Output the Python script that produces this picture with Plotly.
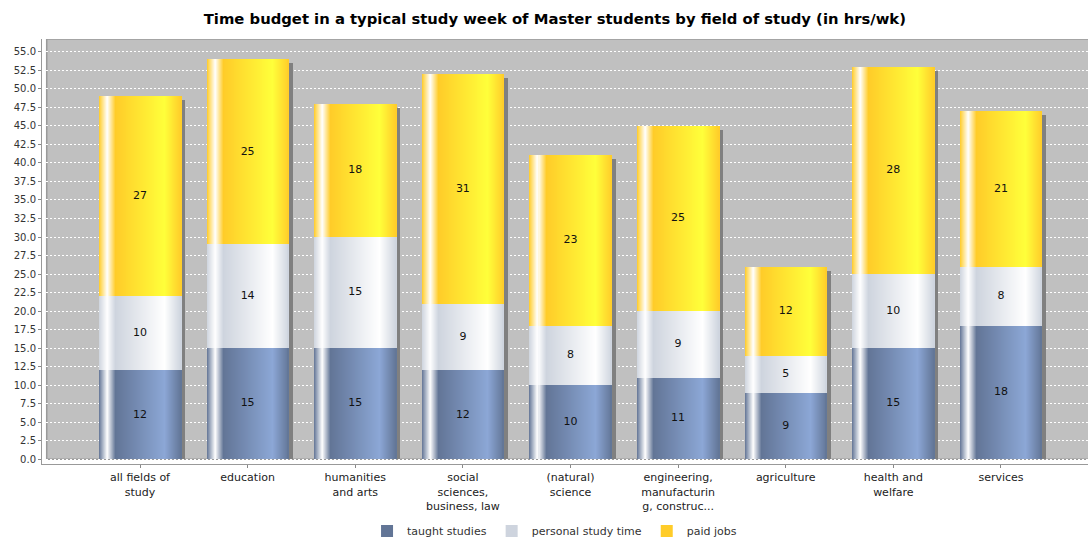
import numpy as np
import plotly.graph_objects as go

# ---- data -------------------------------------------------------------
categories = [
    "all fields of<br>study", "education", "humanities<br>and arts",
    "social<br>sciences,<br>business, law", "(natural)<br>science",
    "engineering,<br>manufacturin<br>g, construc...", "agriculture",
    "health and<br>welfare", "services",
]
taught_studies = [12, 15, 15, 12, 10, 11, 9, 15, 18]
personal_study_time = [10, 14, 15, 9, 8, 9, 5, 10, 8]
paid_jobs = [27, 25, 18, 31, 23, 25, 12, 28, 21]
series_names = ["taught studies", "personal study time", "paid jobs"]
y_ticks = [i * 2.5 for i in range(23)]

# ---- styling ----------------------------------------------------------
FONT = "DejaVu Sans"
base_colors = [(98, 117, 150), (206, 212, 222), (255, 204, 41)]
PX_PER_CAT = 107.6          # horizontal pixels per category slot
PX_PER_UNIT = 7.41          # vertical pixels per hour
BAR_W = 82 / PX_PER_CAT     # bar width in category units
N_STRIPS = 82               # vertical strips used to paint the gradient
SHADOW_DX = 4 / PX_PER_CAT
SHADOW_DY = 4 / PX_PER_UNIT


def brighter(c):
    return tuple(min(int(v / 0.7), 255) for v in c)


def lerp(a, b, t):
    return tuple(a[i] + (b[i] - a[i]) * t for i in range(3))


def gradient(c0, t):
    """Horizontal bar gradient: dark -> white -> dark -> light -> dark."""
    white = (255, 255, 255)
    c1 = brighter(c0)
    if t < 0.1:
        c = lerp(c0, white, t / 0.1)
    elif t < 0.2:
        c = lerp(white, c0, (t - 0.1) / 0.1)
    elif t < 0.8:
        c = lerp(c0, c1, (t - 0.2) / 0.6)
    else:
        c = lerp(c1, c0, (t - 0.8) / 0.2)
    return "rgb(%d,%d,%d)" % tuple(int(round(v)) for v in c)


x = np.arange(len(categories))
series = [np.array(taught_studies), np.array(personal_study_time), np.array(paid_jobs)]
bases = [np.zeros(len(x)), series[0], series[0] + series[1]]
totals = series[0] + series[1] + series[2]

fig = go.Figure()

# drop shadow behind every stacked bar
fig.add_trace(go.Bar(
    x=x, y=totals - SHADOW_DY, base=np.zeros(len(x)),
    offset=-BAR_W / 2 + SHADOW_DX, width=BAR_W,
    marker=dict(color="rgb(128,128,128)", line=dict(width=0)),
    showlegend=False, hoverinfo="skip",
))

# gradient-filled stacked segments, painted strip by strip
strip_w = BAR_W / N_STRIPS
for vals, base, c0 in zip(series, bases, base_colors):
    for i in range(N_STRIPS):
        t = (i + 0.5) / N_STRIPS
        w = strip_w * 2.0 if i < N_STRIPS - 1 else strip_w
        fig.add_trace(go.Bar(
            x=x, y=vals, base=base,
            offset=-BAR_W / 2 + i * strip_w, width=w,
            marker=dict(color=gradient(c0, t), line=dict(width=0)),
            showlegend=False, hoverinfo="skip",
        ))

# value labels in the middle of each segment
for vals, base in zip(series, bases):
    fig.add_trace(go.Scatter(
        x=x, y=base + vals / 2, text=[str(v) for v in vals],
        mode="text", textposition="middle center",
        textfont=dict(family=FONT, size=11, color="#111"),
        showlegend=False, hoverinfo="skip",
    ))

# legend entries
for name, c0 in zip(series_names, base_colors):
    fig.add_trace(go.Bar(
        x=[None], y=[None], name=name,
        marker=dict(color="rgb(%d,%d,%d)" % c0, line=dict(width=0)),
    ))

Y_MIN = -4.7 / PX_PER_UNIT
Y_MAX = 420.3 / PX_PER_UNIT
X_MIN = -98 / PX_PER_CAT
X_MAX = 8 + 87 / PX_PER_CAT

fig.update_layout(
    width=1088, height=537,
    margin=dict(l=42, r=0, t=39, b=73, autoexpand=False),
    paper_bgcolor="white", plot_bgcolor="white",
    barmode="overlay", bargap=0,
    font=dict(family=FONT, color="#333"),
    title=dict(
        text="<b>Time budget in a typical study week of Master students by field of study (in hrs/wk)</b>",
        font=dict(family=FONT, size=14.8, color="#000"),
        x=0.51, xref="container", xanchor="center",
        y=1 - 19 / 537, yref="container", yanchor="middle",
    ),
    xaxis=dict(
        range=[X_MIN, X_MAX], tickvals=list(x), ticktext=categories,
        ticks="outside", ticklen=3, tickcolor="#888",
        showline=True, linecolor="#999", linewidth=1,
        showgrid=False, zeroline=False,
        tickfont=dict(family=FONT, size=11, color="#222"),
    ),
    yaxis=dict(
        range=[Y_MIN, Y_MAX], tickvals=y_ticks,
        ticktext=["%.1f" % v for v in y_ticks],
        ticks="outside", ticklen=3, tickcolor="#888",
        showline=True, linecolor="#999", linewidth=1,
        showgrid=True, gridcolor="white", griddash="2px,2px", gridwidth=1,
        zeroline=False,
        tickfont=dict(family=FONT, size=10, color="#333"),
    ),
    legend=dict(
        orientation="h", x=0.49, xanchor="center",
        y=-(531 - 464) / 425, yanchor="middle",
        font=dict(family=FONT, size=11, color="#333"),
        itemwidth=30, bgcolor="rgba(0,0,0,0)",
    ),
    shapes=[dict(
        type="rect", xref="x", yref="y",
        x0=-93.3 / PX_PER_CAT, x1=X_MAX + 1, y0=0, y1=Y_MAX,
        fillcolor="#c0c0c0", line=dict(color="#9a9a9a", width=1.5),
        layer="below",
    )],
)

fig.write_html("out.html")
